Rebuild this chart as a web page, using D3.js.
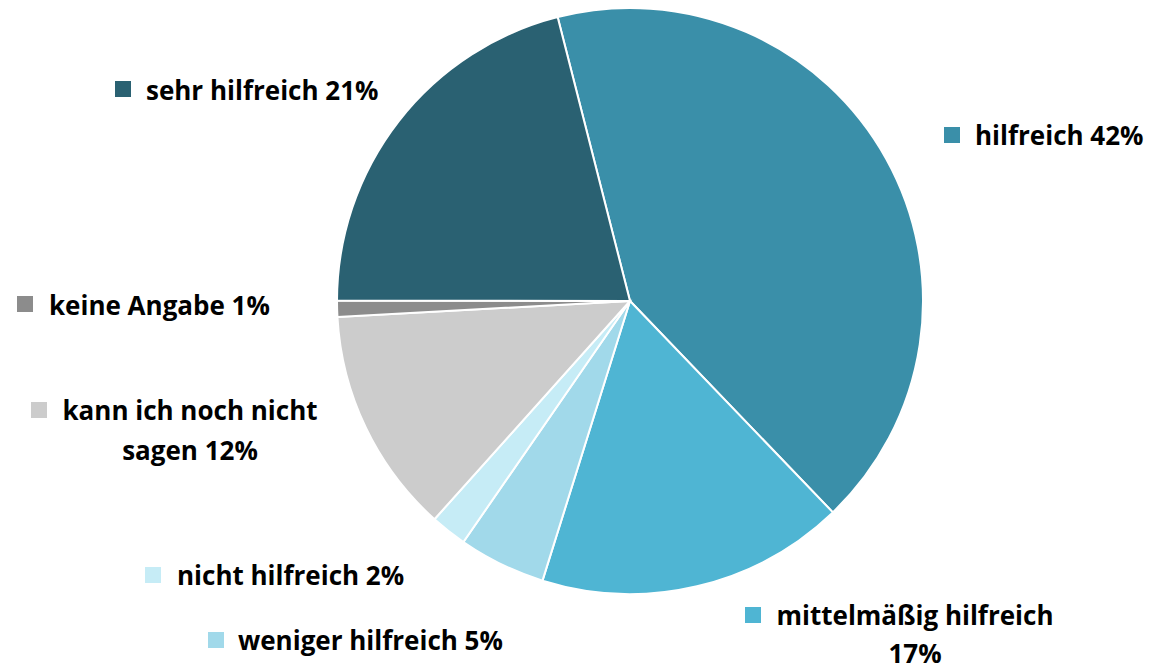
<!DOCTYPE html>
<html lang="de">
    <head>
        <meta charset="utf-8">
        <title>Pie</title>
        <script src="https://d3js.org/d3.v7.min.js"></script>
        <style type="text/css">
            body { margin: 0; background: #fff; }
            text { font-family: "Open Sans", Lato, sans-serif; font-weight: bold; fill: #000; }
        </style>
    </head>
    <body>
        <script type="text/javascript">

            //consts
            const w = 1151;
            const h = 669;
            const cx = 630, cy = 301, r = 293;
            const startDeg = -14.3;

            //data
            const categories = ["hilfreich", "mittelmäßig hilfreich", "weniger hilfreich", "nicht hilfreich",
                                "kann ich noch nicht sagen", "keine Angabe", "sehr hilfreich"];
            const values = [41.8, 17.0, 4.8, 2.0, 12.5, 0.9, 21.0];
            const percentLabels = ["42%", "17%", "5%", "2%", "12%", "1%", "21%"];
            const colors = ["#3a8fa9", "#4fb5d3", "#a1d9ea", "#c6ecf6", "#cccccc", "#8c8c8c", "#2a6172"];

            //label layout: square x/y, text lines (x = anchor, y = baseline)
            const labelLayout = {
                "hilfreich":                  {sq: [944, 127], lines: [[975, 145, "start"]]},
                "mittelmäßig hilfreich":      {sq: [745, 607], lines: [[915, 625, "middle"], [915, 663, "middle"]], split: ["mittelmäßig hilfreich", ""]},
                "weniger hilfreich":          {sq: [208, 632], lines: [[238, 650, "start"]]},
                "nicht hilfreich":            {sq: [145, 567], lines: [[177, 585, "start"]]},
                "kann ich noch nicht sagen":  {sq: [31, 402], lines: [[190, 420, "middle"], [190, 460, "middle"]], split: ["kann ich noch nicht", "sagen"]},
                "keine Angabe":               {sq: [17, 296], lines: [[49, 315, "start"]]},
                "sehr hilfreich":             {sq: [115, 81], lines: [[146, 100, "start"]]}
            };

            const color = d3.scaleOrdinal().domain(categories).range(colors);

            const pie = d3.pie()
                          .sort(null)
                          .value(d => d.value)
                          .startAngle(startDeg * Math.PI / 180)
                          .endAngle((startDeg + 360) * Math.PI / 180);

            const arc = d3.arc().innerRadius(0).outerRadius(r);

            const data = categories.map((c, i) => ({cat: c, value: values[i], pct: percentLabels[i]}));

            //SVG
            const svg = d3.select("body")
                          .append("svg")
                          .attr("width", w)
                          .attr("height", h);

            svg.append("g")
               .attr("transform", "translate(" + cx + "," + cy + ")")
               .selectAll("path")
               .data(pie(data))
               .enter()
               .append("path")
               .attr("d", arc)
               .style("fill", d => color(d.data.cat))
               .style("stroke", "#fff")
               .style("stroke-width", 2);

            //labels
            const labels = svg.selectAll("g.lbl")
                              .data(data)
                              .enter()
                              .append("g")
                              .attr("class", "lbl");

            labels.append("rect")
                  .attr("x", d => labelLayout[d.cat].sq[0])
                  .attr("y", d => labelLayout[d.cat].sq[1])
                  .attr("width", 16)
                  .attr("height", 16)
                  .style("fill", d => color(d.cat));

            labels.each(function(d) {
                const lay = labelLayout[d.cat];
                const g = d3.select(this);
                const texts = lay.split
                    ? [lay.split[0], (lay.split[1] ? lay.split[1] + " " : "") + d.pct]
                    : [d.cat + " " + d.pct];
                texts.forEach((t, i) => {
                    g.append("text")
                     .attr("x", lay.lines[i][0])
                     .attr("y", lay.lines[i][1])
                     .attr("text-anchor", lay.lines[i][2])
                     .style("font-size", "26px")
                     .text(t);
                });
            });
        </script>
    </body>
</html>
